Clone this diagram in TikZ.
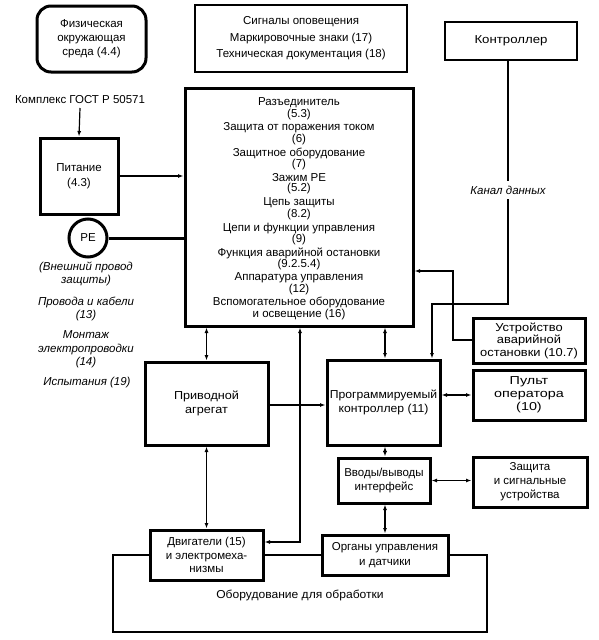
\documentclass[tikz,border=0pt]{standalone}
\usepackage{fontspec}
\setmainfont{Liberation Sans}
\usetikzlibrary{arrows.meta}
\newcommand{\fs}[1]{\fontsize{11.5}{#1}\selectfont}
\newcommand{\wdx}[1]{\addfontfeatures{FakeStretch=#1}}
\begin{document}
\begin{tikzpicture}[x=1pt,y=-1pt,
  box/.style={align=center, inner sep=0pt, fill=white},
  thickbox/.style={box, draw, line width=3pt},
  thinbox/.style={box, draw, line width=1.3pt},
  txt/.style={align=center, inner sep=0pt},
  itxt/.style={align=center, inner sep=0pt, font=\fs{13}\itshape},
  tip/.tip={Latex[length=5.5pt,width=4pt]},
  conn/.style={line width=1.2pt, -tip},
  dconn/.style={line width=1.2pt, tip-tip},
]
\useasboundingbox (0,0) rectangle (598,640);

% processing equipment frame (drawn first)
\node[draw, line width=2.4pt, minimum width=374pt, minimum height=77pt, inner sep=0pt] (equip) at (300,593.5) {};
\node[txt, font=\fs{12}\wdx{1.05}] (equiptxt) at (300,595) {Оборудование для обработки};

% top boxes
\node[thickbox, rounded corners=14pt, minimum width=109pt, minimum height=66pt, font=\fs{14}] (phys) at (91.5,39) {Физическая\\окружающая\\среда (4.4)};
\node[thinbox, minimum width=212pt, minimum height=67pt, font=\fs{16.5}] (sig) at (301,38.5) {Сигналы оповещения\\Маркировочные знаки (17)\\Техническая документация (18)};
\node[thinbox, minimum width=132pt, minimum height=38pt, font=\fs{12}\wdx{1.15}] (ctrl) at (511,41) {Контроллер};

% main box
\node[thickbox, minimum width=228pt, minimum height=238pt] (main) at (299,207) {};
\foreach \a/\b [count=\i from 0] in {Разъединитель/(5.3), Защита от поражения током/(6), Защитное оборудование/(7), Зажим PE/(5.2), Цепь защиты/(8.2), Цепи и функции управления/(9), Функция аварийной остановки/(9.2.5.4), Аппаратура управления/(12)}
  \node[txt, font=\fs{10}] (m\i) at (299,{109+25*\i}) {\a\\\b};
\node[txt, font=\fs{10}] (m8) at (299,308.5) {Вспомогательное оборудование\\и освещение (16)};

% left side
\node[txt, font=\fs{12}] (gost) at (80,100) {Комплекс ГОСТ Р 50571};
\node[thickbox, minimum width=78pt, minimum height=76pt, font=\fs{15}] (pit) at (79,176) {Питание\\(4.3)};
\node[draw, circle, line width=3pt, minimum size=38pt, inner sep=0pt, font=\fs{12}] (pe) at (88,238) {PE};
\node[itxt, font=\fs{12.5}\itshape] (pe2) at (86,274) {(Внешний провод\\защиты)};
\node[itxt] (cab) at (86,308.5) {Провода и кабели\\(13)};
\node[itxt, font=\fs{13.5}\itshape] (mont) at (86,349.5) {Монтаж\\электропроводки\\(14)};
\node[itxt] (test) at (87,383) {Испытания (19)};

% middle row
\node[thickbox, minimum width=123pt, minimum height=83pt, font=\fs{13.5}\wdx{1.1}] (drive) at (206.5,403.5) {Приводной\\агрегат};
\node[thickbox, minimum width=113pt, minimum height=85pt, font=\fs{14.5}\wdx{1.06}] (plc) at (383.5,402.5) {Программируемый\\контроллер (11)};
\node[thickbox, minimum width=112pt, minimum height=45pt, font=\fs{12.5}\wdx{1.12}] (estop) at (529,340.5) {Устройство\\аварийной\\остановки (10.7)};
\node[thickbox, minimum width=112pt, minimum height=50pt, font=\fs{13}\wdx{1.25}] (pult) at (529,395) {Пульт\\оператора\\(10)};

% lower row
\node[thickbox, minimum width=92pt, minimum height=45pt, font=\fs{13.5}] (io) at (384,480.5) {Вводы/выводы\\интерфейс};
\node[thickbox, minimum width=114pt, minimum height=50pt, font=\fs{14}] (prot) at (530,482) {Защита\\и сигнальные\\устройства};
\node[thickbox, minimum width=113pt, minimum height=50pt, font=\fs{13.5}] (motor) at (206.5,555) {Двигатели (15)\\и электромеха-\\низмы};
\node[thickbox, minimum width=126pt, minimum height=40pt, font=\fs{14.5}] (org) at (385,555) {Органы управления\\и датчики};

% connectors
\coordinate (g0) at (80,108);
\draw[conn] (g0) -- (pit.north);
\draw[conn] (pit.east) -- (pit.east -| main.west);
\draw[line width=3pt] (pe.east) -- (pe.east -| main.west);
\draw[dconn] (drive.north) -- (drive.north |- main.south);
\draw[dconn] (drive.south) -- (motor.north);
\coordinate (a1) at (0,405);
\draw[conn] (drive.east |- a1) -- (plc.west |- a1);
\coordinate (c1) at (300,542);
\draw[dconn] (motor.east |- c1) -- (c1) -- (c1 |- main.south);
\coordinate (v1) at (385,0);
\draw[dconn] (v1 |- plc.north) -- (v1 |- main.south);
\draw[dconn] (plc.east |- pult.west) -- (pult.west);
\draw[dconn] (v1 |- plc.south) -- (v1 |- io.north);
\draw[dconn] (v1 |- io.south) -- (v1 |- org.north);
\draw[dconn] (io.east) -- (prot.west |- io.east);
\coordinate (e1) at (453,340);
\coordinate (e2) at (453,271);
\draw[conn] (estop.west |- e1) -- (e1) -- (e2) -- (e2 -| main.east);
\coordinate (d1) at (508,304);
\coordinate (d2) at (432,304);
\draw[conn] (ctrl.south -| d1) -- (d1) -- (d2) -- (d2 |- plc.north);
\node[txt, fill=white, inner sep=5pt, font=\fs{12}\itshape] (chan) at (508,190) {Канал данных};
\end{tikzpicture}
\end{document}
